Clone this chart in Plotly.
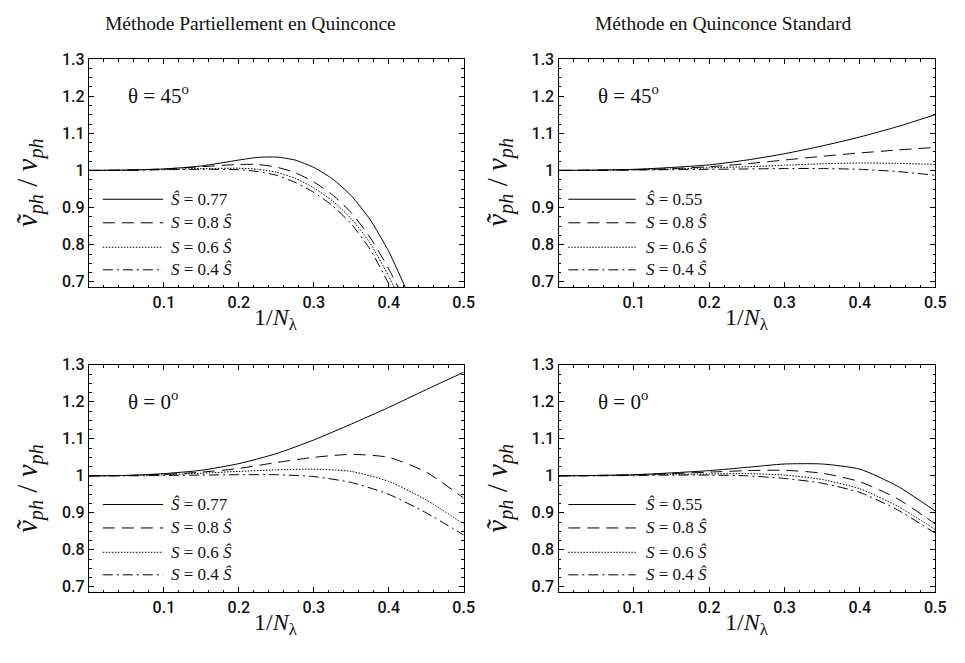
import plotly.graph_objects as go

# ---------------- data ----------------
panel_titles = ["Méthode Partiellement en Quinconce", "Méthode en Quinconce Standard"]
angle_labels = ["θ = 45<sup>o</sup>", "θ = 45<sup>o</sup>", "θ = 0<sup>o</sup>", "θ = 0<sup>o</sup>"]
series_labels_left = ["<i>Ŝ</i> = 0.77", "<i>S</i> = 0.8 <i>Ŝ</i>", "<i>S</i> = 0.6 <i>Ŝ</i>", "<i>S</i> = 0.4 <i>Ŝ</i>"]
series_labels_right = ["<i>Ŝ</i> = 0.55", "<i>S</i> = 0.8 <i>Ŝ</i>", "<i>S</i> = 0.6 <i>Ŝ</i>", "<i>S</i> = 0.4 <i>Ŝ</i>"]
x_title = "1/<i>N</i><sub>λ</sub>"
y_title = "<i>ṽ</i><sub><i>ph</i></sub> / <i>v</i><sub><i>ph</i></sub>"

x_tick_vals = [0.1, 0.2, 0.3, 0.4, 0.5]
x_tick_text = ["0.1", "0.2", "0.3", "0.4", "0.5"]
y_tick_vals = [0.7, 0.8, 0.9, 1.0, 1.1, 1.2, 1.3]
y_tick_text = ["0.7", "0.8", "0.9", "1", "1.1", "1.2", "1.3"]

# top-left: partially staggered, theta = 45
x_tl = [0, 0.05, 0.1, 0.15, 0.2, 0.225, 0.25, 0.275, 0.3, 0.325, 0.35, 0.375, 0.4, 0.425, 0.45]
tl_s100 = [1.0, 1.001, 1.004, 1.012, 1.028, 1.035, 1.036, 1.028, 1.008, 0.977, 0.932, 0.868, 0.782, 0.672, 0.56]
tl_s080 = [1.0, 1.001, 1.004, 1.010, 1.016, 1.016, 1.009, 0.994, 0.969, 0.934, 0.886, 0.820, 0.735, 0.635, 0.53]
tl_s060 = [1.0, 1.001, 1.003, 1.005, 1.006, 1.003, 0.995, 0.979, 0.953, 0.918, 0.870, 0.805, 0.715, 0.612, 0.51]
tl_s040 = [1.0, 1.000, 1.002, 1.003, 1.002, 0.997, 0.987, 0.968, 0.941, 0.905, 0.856, 0.788, 0.695, 0.592, 0.49]

# top-right: standard staggered, theta = 45
x_tr = [0, 0.05, 0.1, 0.15, 0.2, 0.25, 0.3, 0.35, 0.4, 0.45, 0.5]
tr_s100 = [1.0, 1.001, 1.003, 1.008, 1.015, 1.028, 1.045, 1.066, 1.090, 1.118, 1.150]
tr_s080 = [1.0, 1.001, 1.002, 1.005, 1.010, 1.018, 1.028, 1.038, 1.047, 1.055, 1.062]
tr_s060 = [1.0, 1.000, 1.002, 1.004, 1.007, 1.010, 1.014, 1.018, 1.020, 1.019, 1.016]
tr_s040 = [1.0, 1.000, 1.001, 1.002, 1.003, 1.004, 1.005, 1.005, 1.003, 0.997, 0.987]

# bottom-left: partially staggered, theta = 0
x_bl = [0, 0.05, 0.1, 0.15, 0.2, 0.25, 0.3, 0.35, 0.4, 0.45, 0.5]
bl_s100 = [1.0, 1.001, 1.006, 1.015, 1.033, 1.060, 1.097, 1.140, 1.185, 1.233, 1.280]
bl_s080 = [1.0, 1.001, 1.004, 1.010, 1.020, 1.036, 1.050, 1.058, 1.050, 1.010, 0.940]
bl_s060 = [1.0, 1.001, 1.003, 1.007, 1.012, 1.016, 1.018, 1.012, 0.985, 0.935, 0.870]
bl_s040 = [1.0, 1.000, 1.001, 1.002, 1.003, 1.003, 0.998, 0.982, 0.950, 0.900, 0.840]

# bottom-right: standard staggered, theta = 0
x_br = [0, 0.05, 0.1, 0.15, 0.2, 0.25, 0.3, 0.35, 0.4, 0.45, 0.5]
br_s100 = [1.0, 1.001, 1.003, 1.008, 1.014, 1.023, 1.032, 1.032, 1.018, 0.972, 0.905]
br_s080 = [1.0, 1.001, 1.003, 1.006, 1.010, 1.014, 1.015, 1.007, 0.984, 0.938, 0.870]
br_s060 = [1.0, 1.001, 1.002, 1.004, 1.005, 1.006, 1.002, 0.990, 0.965, 0.918, 0.855]
br_s040 = [1.0, 1.000, 1.001, 1.002, 1.002, 1.000, 0.993, 0.980, 0.955, 0.908, 0.845]

panels = [
    (x_tl, [tl_s100, tl_s080, tl_s060, tl_s040], series_labels_left),
    (x_tr, [tr_s100, tr_s080, tr_s060, tr_s040], series_labels_right),
    (x_bl, [bl_s100, bl_s080, bl_s060, bl_s040], series_labels_left),
    (x_br, [br_s100, br_s080, br_s060, br_s040], series_labels_right),
]

# ---------------- styling ----------------
W, H = 965, 663
dashes = ["solid", "12px,7px", "1.5px,1.5px", "10px,4px,2px,4px"]
x_domains = [[90 / W, 469 / W], [565 / W, 946 / W]]
y_domains = [[1 - 284 / H, 1 - 51 / H], [1 - 595 / H, 1 - 363 / H]]
serif = "Liberation Serif, Times New Roman, serif"
sans = "Roboto, Liberation Sans, Arial, sans-serif"
ink = "#111111"

fig = go.Figure()
layout = dict(
    width=W, height=H, margin=dict(l=0, r=0, t=0, b=0),
    plot_bgcolor="white", paper_bgcolor="white", showlegend=False,
)
annotations = []
shapes = []

for i, (xs, ys_list, labels) in enumerate(panels):
    row, col = divmod(i, 2)
    n = i + 1
    xa = "x" if n == 1 else f"x{n}"
    ya = "y" if n == 1 else f"y{n}"
    for ys, d in zip(ys_list, dashes):
        fig.add_trace(go.Scatter(x=xs, y=ys, mode="lines", xaxis=xa, yaxis=ya,
                                 line=dict(color="black", width=1, dash=d, shape="spline", smoothing=0.6)))
    axis_common = dict(showline=True, linecolor="black", linewidth=1.3, mirror="allticks",
                       ticks="inside", ticklen=5, tickwidth=1, tickcolor="black",
                       showgrid=False, zeroline=False,
                       tickfont=dict(family=sans, size=16, color=ink, weight=500))
    layout["xaxis" if n == 1 else f"xaxis{n}"] = dict(
        axis_common, domain=x_domains[col], range=[0, 0.5], anchor=ya,
        tickvals=x_tick_vals, ticktext=x_tick_text,
        minor=dict(dtick=0.02, tick0=0, ticks="inside", ticklen=2.5, tickcolor="black", showgrid=False),
    )
    layout["yaxis" if n == 1 else f"yaxis{n}"] = dict(
        axis_common, domain=y_domains[row], range=[0.685, 1.3], anchor=xa,
        tickvals=y_tick_vals, ticktext=y_tick_text,
        minor=dict(dtick=0.025, tick0=0, ticks="inside", ticklen=2.5, tickcolor="black", showgrid=False),
    )
    dom_x = f"{xa} domain"
    dom_y = f"{ya} domain"
    # axis titles
    px_left = x_domains[col][0] * W
    px_right = x_domains[col][1] * W
    top_px = [51, 363][row]
    bot_px = [284, 595][row]
    annotations.append(dict(text=x_title, xref="paper", yref="paper",
                            x=(px_left + px_right) / 2 / W, y=1 - (bot_px + 32) / H,
                            xanchor="center", yanchor="middle", showarrow=False,
                            font=dict(family=serif, size=24, color=ink)))
    annotations.append(dict(text=y_title, xref="paper", yref="paper", textangle=-90,
                            x=(px_left - 60) / W, y=1 - (top_px + 126) / H,
                            xanchor="center", yanchor="middle", showarrow=False,
                            font=dict(family=serif, size=29, color=ink)))
    # angle label
    annotations.append(dict(text=angle_labels[i], xref=dom_x, yref=dom_y, x=0.1, y=0.845,
                            xanchor="left", yanchor="middle", showarrow=False,
                            font=dict(family=serif, size=21, color=ink)))
    # legend samples
    if col == 0:
        lx0, lx1, tx = 0.037, 0.198, 0.214
    else:
        lx0, lx1, tx = 0.026, 0.205, 0.226
    for k, (lab, d) in enumerate(zip(labels, dashes)):
        ly = [0.386, 0.283, 0.176, 0.077][k]
        shapes.append(dict(type="line", xref=dom_x, yref=dom_y, x0=lx0, x1=lx1, y0=ly, y1=ly,
                           line=dict(color="black", width=1, dash=d)))
        annotations.append(dict(text=lab, xref=dom_x, yref=dom_y, x=tx, y=ly,
                                xanchor="left", yanchor="middle", showarrow=False,
                                font=dict(family=serif, size=17, color=ink)))

# panel titles
annotations.append(dict(text=panel_titles[0], xref="paper", yref="paper", x=253 / W, y=1 - 15 / H,
                        xanchor="center", yanchor="middle", showarrow=False,
                        font=dict(family=serif, size=19.5, color=ink)))
annotations.append(dict(text=panel_titles[1], xref="paper", yref="paper", x=731 / W, y=1 - 15 / H,
                        xanchor="center", yanchor="middle", showarrow=False,
                        font=dict(family=serif, size=19.5, color=ink)))

layout["annotations"] = annotations
layout["shapes"] = shapes
fig.update_layout(**layout)
fig.write_html("out.html")
